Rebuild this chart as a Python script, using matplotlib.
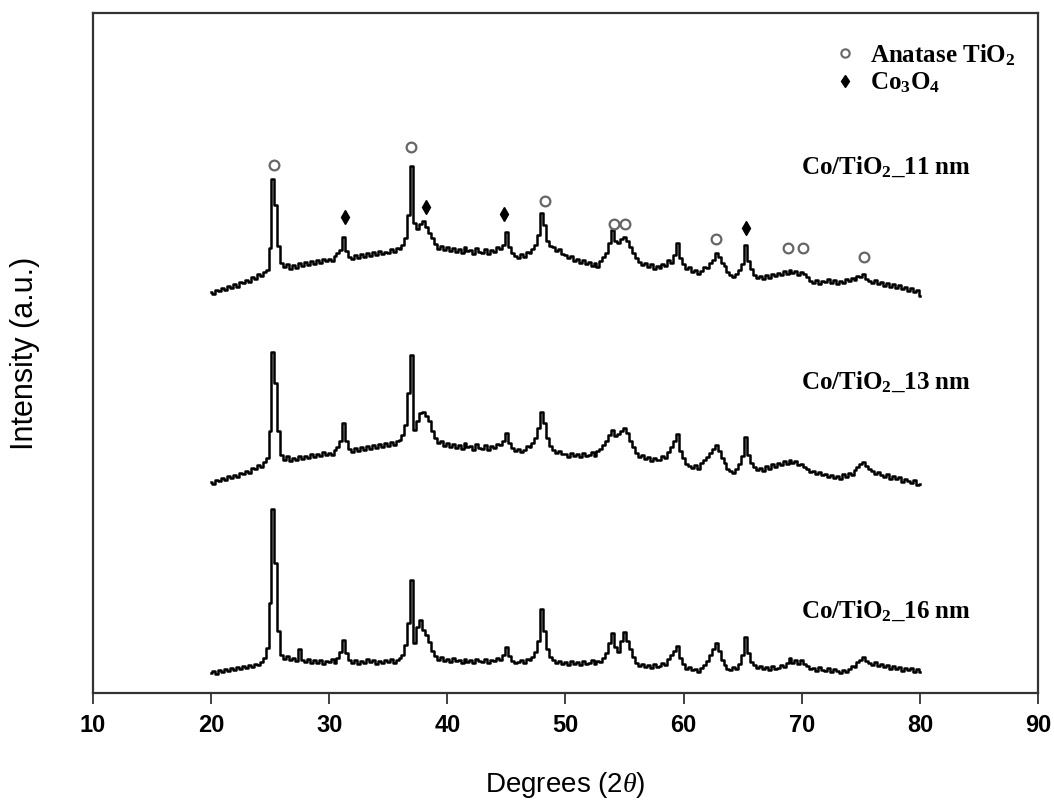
import numpy as np
import matplotlib
matplotlib.use("Agg")
import matplotlib.pyplot as plt
from matplotlib.lines import Line2D

# --- data (arbitrary units, curves already stacked) ---
two_theta = np.arange(20, 80.001, 0.25)

co_tio2_11nm = [
    401, 399, 403, 402,  405, 403, 407, 405,  409, 406, 411, 410,  413, 411, 416, 414,
    419, 417, 421, 423,  445, 514, 488, 447,  430, 426, 429, 424,  428, 425, 430, 427,
    431, 428, 432, 429,  433, 430, 434, 432,  434, 432, 437, 440,  443, 456, 442, 436,
    434, 438, 435, 439,  436, 440, 437, 441,  438, 442, 439, 441,  440, 444, 441, 445,
    444, 448, 455, 478,  527, 470, 464, 469,  472, 466, 460, 455,  449, 444, 447, 443,
    446, 442, 445, 441,  444, 440, 446, 442,  443, 439, 445, 441,  440, 444, 439, 443,
    441, 446, 444, 448,  461, 446, 440, 437,  435, 439, 436, 441,  440, 444, 448, 458,
    480, 468, 452, 447,  446, 442, 444, 439,  438, 435, 437, 432,  434, 430, 433, 429,
    431, 427, 430, 426,  432, 436, 440, 450,  463, 452, 450, 454,  456, 452, 446, 440,
    435, 431, 428, 430,  426, 429, 424, 427,  425, 429, 427, 433,  430, 438, 450, 435,
    429, 424, 426, 421,  423, 419, 422, 426,  425, 430, 433, 440,  436, 430, 427, 421,
    418, 416, 419, 423,  429, 448, 432, 424,  418, 415, 417, 414,  418, 415, 419, 417,
    420, 418, 422, 419,  423, 420, 422, 418,  421, 419, 416, 412,  410, 413, 409, 412,
    411, 414, 410, 413,  409, 412, 410, 414,  412, 415, 413, 417,  416, 419, 414, 412,
    410, 413, 409, 411,  407, 410, 406, 409,  405, 408, 404, 406,  402, 405, 401, 403,
    397,
]

co_tio2_13nm = [
    211, 209, 213, 212,  215, 213, 217, 215,  218, 216, 220, 219,  222, 220, 225, 224,
    228, 226, 231, 235,  262, 341, 310, 262,  238, 233, 237, 232,  235, 233, 237, 234,
    237, 235, 239, 236,  239, 237, 241, 238,  240, 238, 243, 246,  252, 270, 252, 244,
    241, 245, 242, 246,  243, 247, 244, 248,  245, 249, 246, 250,  247, 251, 248, 252,
    253, 258, 268, 300,  338, 263, 272, 280,  281, 277, 272, 262,  255, 250, 252, 247,
    250, 246, 249, 245,  248, 244, 250, 246,  247, 243, 249, 245,  244, 248, 243, 247,
    245, 249, 248, 252,  260, 250, 245, 242,  244, 241, 243, 247,  246, 250, 255, 265,
    281, 270, 255, 247,  243, 240, 242, 239,  239, 236, 240, 237,  239, 236, 240, 237,
    238, 241, 237, 242,  244, 248, 252, 258,  263, 257, 259, 262,  265, 260, 252, 246,
    240, 236, 238, 234,  236, 232, 235, 233,  233, 237, 235, 241,  246, 252, 259, 242,
    235, 229, 227, 225,  228, 224, 230, 233,  236, 240, 244, 248,  242, 235, 230, 224,
    222, 220, 224, 229,  237, 256, 238, 230,  226, 223, 225, 222,  227, 224, 229, 226,
    230, 228, 232, 229,  233, 230, 232, 228,  229, 226, 224, 221,  222, 219, 221, 218,
    219, 216, 218, 215,  217, 214, 219, 216,  220, 218, 223, 226,  229, 231, 227, 224,
    222, 219, 221, 218,  216, 219, 214, 217,  214, 216, 211, 214,  212, 210, 213, 208,
    209,
]

co_tio2_16nm = [
    20, 22, 19, 23,  21, 24, 22, 25,  23, 26, 24, 27,  25, 28, 26, 29,
    28, 31, 35, 45,  90, 184, 130, 62,  38, 34, 37, 33,  35, 32, 44, 33,
    31, 34, 30, 33,  30, 33, 29, 32,  31, 34, 30, 35,  41, 53, 40, 33,
    30, 33, 29, 32,  30, 34, 31, 33,  29, 32, 30, 33,  31, 34, 30, 33,
    35, 38, 48, 70,  113, 50, 66, 73,  63, 58, 51, 42,  37, 33, 36, 32,
    34, 31, 35, 32,  33, 30, 34, 31,  33, 30, 34, 32,  31, 34, 30, 33,
    32, 35, 33, 38,  46, 37, 32, 30,  31, 33, 30, 34,  33, 36, 41, 52,
    84, 62, 44, 36,  33, 30, 32, 29,  31, 28, 32, 29,  31, 28, 32, 29,
    30, 33, 29, 32,  31, 35, 40, 50,  60, 46, 41, 52,  61, 52, 44, 36,
    30, 27, 29, 26,  28, 25, 29, 26,  27, 30, 28, 34,  38, 42, 47, 35,
    29, 24, 26, 23,  24, 21, 25, 28,  32, 38, 44, 50,  42, 33, 28, 24,
    23, 26, 24, 29,  38, 56, 40, 31,  28, 25, 27, 24,  26, 23, 27, 24,
    25, 28, 26, 30,  35, 30, 33, 29,  33, 29, 27, 24,  25, 22, 26, 23,
    22, 25, 21, 24,  22, 20, 23, 21,  24, 27, 26, 31,  33, 36, 32, 30,
    28, 31, 27, 29,  26, 28, 24, 27,  24, 26, 22, 25,  23, 25, 21, 24,
    21,
]

sample_names = ["11", "13", "16"]
label_heights = [526, 311, 82]

# phase markers above the 11 nm pattern
anatase_x = [25.3, 36.9, 48.3, 54.1, 55.0, 62.75, 68.8, 70.1, 75.3]
anatase_y = [528, 546, 492, 469, 469, 454, 445, 445, 436]
co3o4_x = [31.35, 38.2, 44.8, 65.3]
co3o4_y = [476, 486, 479, 465]

# --- fonts ---
plt.rcParams['mathtext.fontset'] = 'custom'
plt.rcParams['mathtext.bf'] = 'Liberation Serif:bold'
plt.rcParams['mathtext.rm'] = 'Liberation Serif:bold'
plt.rcParams['mathtext.it'] = 'Liberation Serif:italic'

fig = plt.figure(figsize=(10.54, 8.05), dpi=100)
ax = fig.add_axes([0.088, 0.139, 0.897, 0.845])

for y in [co_tio2_11nm, co_tio2_13nm, co_tio2_16nm]:
    ax.plot(two_theta, y, color='black', lw=1.8, drawstyle='steps-mid')

ax.plot(anatase_x, anatase_y, ls='none', marker='o', ms=7, mfc='white',
        mec='#666666', mew=1.6)
ax.plot(co3o4_x, co3o4_y, ls='none', marker='d', ms=7, color='black')

serif = dict(family='Liberation Serif', weight='bold', fontsize=18)
for name, h in zip(sample_names, label_heights):
    ax.text(77.1, h, r'Co/TiO$_\mathbf{2}$_' + name + ' nm', ha='center',
            va='center', **serif)

handles = [
    Line2D([], [], ls='none', marker='o', ms=6, mfc='white', mec='#666666', mew=1.5),
    Line2D([], [], ls='none', marker='d', ms=6, color='black'),
]
leg = ax.legend(handles, [r'Anatase TiO$_\mathbf{2}$', r'Co$_\mathbf{3}$O$_\mathbf{4}$'],
                loc='upper right', bbox_to_anchor=(1.0, 0.99), frameon=False,
                prop=dict(family='Liberation Serif', weight='bold', size=18),
                handlelength=1.0, handletextpad=0.5, labelspacing=0.1)

ax.set_xlim(10, 90)
ax.set_ylim(0, 680)
ax.set_xticks(range(10, 91, 10))
ax.set_yticks([])
ax.tick_params(axis='x', direction='out', length=8, width=1.3, color='#333333',
               pad=7, labelsize=17)
for lab in ax.get_xticklabels():
    lab.set_fontfamily(['Liberation Sans Narrow', 'Liberation Sans'])
    lab.set_fontweight('bold')
for sp in ax.spines.values():
    sp.set_linewidth(1.6)
    sp.set_color('#333333')

ax.set_xlabel(r'Degrees (2$\theta$)', family='Liberation Sans', fontsize=20,
              labelpad=24)
ax.set_ylabel('Intensity (a.u.)', family='Liberation Sans', fontsize=22,
              labelpad=38)

fig.savefig('out.png', dpi=100)
